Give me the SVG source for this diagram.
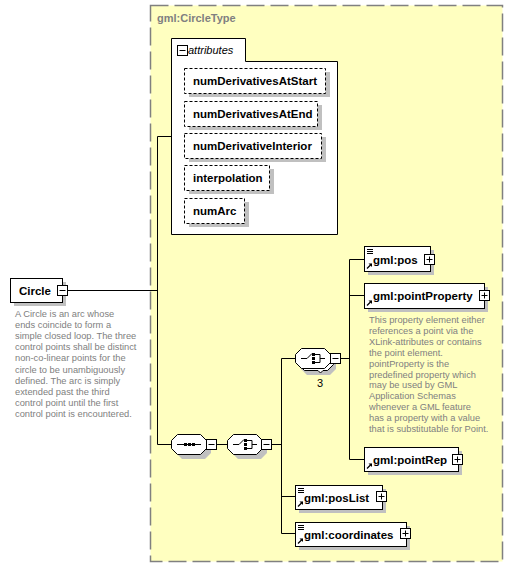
<svg xmlns="http://www.w3.org/2000/svg" width="513" height="567" viewBox="0 0 513 567">
<defs>
<style>
.lbl{font-family:"Liberation Sans",Arial,sans-serif;font-size:11.5px;font-weight:bold;fill:#000}
.desc{font-family:"Liberation Sans",Arial,sans-serif;font-size:9.3px;fill:#808080}
.box{fill:#fff;stroke:#000;stroke-width:1}
.dbox{fill:#fff;stroke:#000;stroke-width:1;stroke-dasharray:3 2}
.sh{fill:#c0c0c0}
.ln{stroke:#000;stroke-width:1;fill:none}
.pm{fill:#fff;stroke:#000;stroke-width:1}
</style>
<g id="plus"><rect class="pm" x="0.5" y="0.5" width="10" height="10"/><path class="ln" d="M2.5 5.5H8.5M5.5 2.5V8.5"/></g>
<g id="minus"><rect class="pm" x="0.5" y="0.5" width="10" height="10"/><path class="ln" d="M2.5 5.5H8.5"/></g>
<g id="lines"><path class="ln" d="M3 3.5H9M3 5.5H9M3 7.5H9"/></g>
<g id="ref"><path d="M3 -2.5L7.5 -7" stroke="#000" stroke-width="1.2"/><path d="M4.5 -7.5H8V-4Z" fill="#000"/></g>
</defs>

<rect x="150.5" y="5.5" width="352" height="556" fill="#ffffc0" stroke="#808080" stroke-width="1.5" stroke-dasharray="18 6"/>
<text x="157" y="22" class="lbl" style="fill:#808080;font-size:11px">gml:CircleType</text>

<g id="connectors">
<path class="ln" d="M68 290.5H157.5M157.5 136.5V444.5M157.5 136.5H171M157.5 444.5H172"/>
<path class="ln" d="M217 444.5H227"/>
<path class="ln" d="M272 444.5H281.5M281.5 358.5V533.5M281.5 358.5H295M281.5 496.5H295M281.5 533.5H295"/>
<path class="ln" d="M341 358.5H349.5M349.5 259.5V459.5M349.5 259.5H364M349.5 295.5H364M349.5 459.5H364"/>
</g>

<g id="Circle">
<rect class="sh" x="14" y="282" width="52" height="24"/>
<rect class="box" x="10.5" y="278.5" width="52" height="24"/>
<text x="19" y="295" class="lbl">Circle</text>
<use href="#minus" x="57" y="285"/>
<text class="desc"><tspan x="15" y="317">A Circle is an arc whose</tspan><tspan x="15" y="328.1">ends coincide to form a</tspan><tspan x="15" y="339.2">simple closed loop. The three</tspan><tspan x="15" y="350.3">control points shall be distinct</tspan><tspan x="15" y="361.4">non-co-linear points for the</tspan><tspan x="15" y="372.5">circle to be unambiguously</tspan><tspan x="15" y="383.6">defined. The arc is simply</tspan><tspan x="15" y="394.7">extended past the third</tspan><tspan x="15" y="405.8">control point until the first</tspan><tspan x="15" y="416.9">control point is encountered.</tspan></text>
</g>

<g id="attributes">
<path class="box" d="M171.5 38.5H245.5V61.5H337.5V234.5H171.5Z"/>
<use href="#minus" x="177" y="45"/>
<text x="188" y="54" style="font-family:'Liberation Sans',Arial,sans-serif;font-size:11px;font-style:italic">attributes</text>
</g>
<g id="numDerivativesAtStart">
<rect class="sh" x="189" y="72" width="141" height="25"/>
<rect class="dbox" x="184.5" y="68.5" width="141" height="25"/>
<text x="193" y="85" class="lbl">numDerivativesAtStart</text>
</g>
<g id="numDerivativesAtEnd">
<rect class="sh" x="189" y="105" width="133" height="25"/>
<rect class="dbox" x="184.5" y="101.5" width="133" height="25"/>
<text x="193" y="118" class="lbl">numDerivativesAtEnd</text>
</g>
<g id="numDerivativeInterior">
<rect class="sh" x="189" y="137" width="137" height="25"/>
<rect class="dbox" x="184.5" y="133.5" width="137" height="25"/>
<text x="193" y="150" class="lbl">numDerivativeInterior</text>
</g>
<g id="interpolation">
<rect class="sh" x="189" y="169" width="85" height="25"/>
<rect class="dbox" x="184.5" y="165.5" width="85" height="25"/>
<text x="193" y="182" class="lbl">interpolation</text>
</g>
<g id="numArc">
<rect class="sh" x="189" y="202" width="60" height="25"/>
<rect class="dbox" x="184.5" y="198.5" width="60" height="25"/>
<text x="193" y="215" class="lbl">numArc</text>
</g>

<g id="sequence">
<polygon class="sh" points="182,439 205,439 211,445 211,453 205,459 182,459 176,453 176,445"/>
<polygon class="box" points="177.5,434.5 200.5,434.5 206.5,440.5 206.5,448.5 200.5,454.5 177.5,454.5 171.5,448.5 171.5,440.5"/>
<path class="ln" d="M177 444.5H201"/>
<rect x="184" y="443" width="3" height="3" fill="#000"/><rect x="188" y="443" width="3" height="3" fill="#000"/><rect x="192" y="443" width="3" height="3" fill="#000"/>
<use href="#minus" x="206" y="439"/>
</g>

<g id="choice1">
<polygon class="sh" points="238,439 261,439 267,445 267,453 261,459 238,459 232,453 232,445"/>
<polygon class="box" points="233.5,434.5 256.5,434.5 262.5,440.5 262.5,448.5 256.5,454.5 233.5,454.5 227.5,448.5 227.5,440.5"/>
<path class="ln" d="M233 444.5H239L244 439.5M246 440.5H252V448.5H246M252 444.5H257"/>
<rect x="244" y="439" width="3" height="3" fill="#000"/><rect x="244" y="443" width="3" height="3" fill="#000"/><rect x="244" y="447" width="3" height="3" fill="#000"/>
<use href="#minus" x="261" y="439"/>
</g>

<g id="choice2">
<polygon class="sh" points="307,357 330,357 336,363 336,369 330,375 307,375 301,369 301,363"/>
<polygon class="box" points="304.5,352.5 327.5,352.5 333.5,358.5 333.5,364.5 327.5,370.5 323,370.5 320.5,373 318,370.5 304.5,370.5 298.5,364.5 298.5,358.5"/>
<polygon class="box" points="301.5,348.5 324.5,348.5 330.5,354.5 330.5,362.5 324.5,368.5 301.5,368.5 295.5,362.5 295.5,354.5"/>
<path class="ln" d="M301 358.5H307L312 353.5M314 354.5H320V362.5H314M320 358.5H325"/>
<rect x="312" y="353" width="3" height="3" fill="#000"/><rect x="312" y="357" width="3" height="3" fill="#000"/><rect x="312" y="361" width="3" height="3" fill="#000"/>
<use href="#minus" x="330" y="353"/>
<text x="317" y="387" style="font-family:'Liberation Sans',Arial,sans-serif;font-size:11px;fill:#000">3</text>
</g>

<g id="gml_pos">
<rect class="sh" x="368" y="250" width="66" height="25"/>
<rect class="box" x="364.5" y="246.5" width="66" height="25"/>
<use href="#lines" x="364" y="246"/>
<use href="#ref" x="364" y="271"/>
<text x="373" y="264" class="lbl">gml:pos</text>
<use href="#plus" x="424" y="254"/>
</g>

<g id="gml_pointProperty">
<rect class="sh" x="368" y="287" width="120" height="25"/>
<rect class="box" x="364.5" y="283.5" width="120" height="25"/>
<use href="#ref" x="364" y="308"/>
<text x="373" y="300" class="lbl">gml:pointProperty</text>
<use href="#plus" x="479" y="290"/>
<text class="desc"><tspan x="369" y="323">This property element either</tspan><tspan x="369" y="333.9">references a point via the</tspan><tspan x="369" y="344.8">XLink-attributes or contains</tspan><tspan x="369" y="355.7">the point element.</tspan><tspan x="369" y="366.6">pointProperty is the</tspan><tspan x="369" y="377.5">predefined property which</tspan><tspan x="369" y="388.4">may be used by GML</tspan><tspan x="369" y="399.3">Application Schemas</tspan><tspan x="369" y="410.2">whenever a GML feature</tspan><tspan x="369" y="421.1">has a property with a value</tspan><tspan x="369" y="432">that is substitutable for Point.</tspan></text>
</g>

<g id="gml_pointRep">
<rect class="sh" x="368" y="451" width="94" height="24"/>
<rect class="box" x="364.5" y="447.5" width="94" height="24"/>
<use href="#ref" x="364" y="471"/>
<text x="373" y="464" class="lbl">gml:pointRep</text>
<use href="#plus" x="452" y="454"/>
</g>

<g id="gml_posList">
<rect class="sh" x="299" y="489" width="87" height="24"/>
<rect class="box" x="295.5" y="485.5" width="87" height="24"/>
<use href="#lines" x="295" y="485"/>
<use href="#ref" x="295" y="509"/>
<text x="304" y="502" class="lbl">gml:posList</text>
<use href="#plus" x="376" y="491"/>
</g>

<g id="gml_coordinates">
<rect class="sh" x="299" y="526" width="111" height="24"/>
<rect class="box" x="295.5" y="522.5" width="111" height="24"/>
<use href="#lines" x="295" y="522"/>
<use href="#ref" x="295" y="546"/>
<text x="304" y="539" class="lbl">gml:coordinates</text>
<use href="#plus" x="400" y="528"/>
</g>
</svg>
